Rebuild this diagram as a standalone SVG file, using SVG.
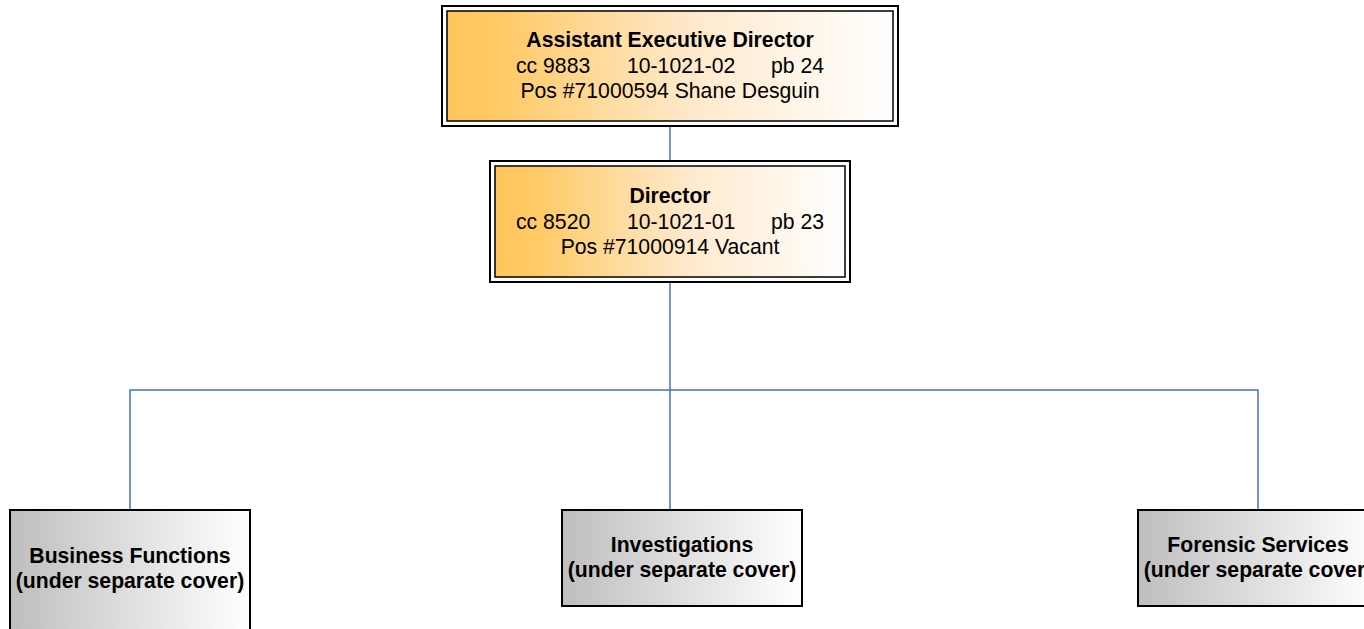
<svg xmlns="http://www.w3.org/2000/svg" width="1364" height="629" viewBox="0 0 1364 629">
<defs>
<linearGradient id="orange" x1="0" y1="0" x2="1" y2="0">
<stop offset="0" stop-color="#FFC65A"/>
<stop offset="0.12" stop-color="#FFCA66"/>
<stop offset="0.55" stop-color="#FFE9CC"/>
<stop offset="1" stop-color="#FFFFFF"/>
</linearGradient>
<linearGradient id="gray" x1="0" y1="0" x2="1" y2="0">
<stop offset="0" stop-color="#BEBEBE"/>
<stop offset="1" stop-color="#FFFFFF"/>
</linearGradient>
<style>
.outer{fill:#FFFFFF;stroke:#000;stroke-width:2}
.inner{fill:url(#orange);stroke:#000;stroke-width:1.5}
.gbox{fill:url(#gray);stroke:#000;stroke-width:2}
.conn{stroke:#4472C4;stroke-width:1.5;fill:none}
text{font-family:"Liberation Sans",Arial,sans-serif;font-size:21.2px;fill:#000}
.b{font-weight:bold}
.m{text-anchor:middle}
</style>
</defs>
<g id="connectors">
<path class="conn" d="M670 126 V161"/>
<path class="conn" d="M670 282 V390"/>
<path class="conn" d="M130 510 V390 H1258 V510"/>
<path class="conn" d="M670 390 V510"/>
</g>
<g id="aed">
<rect class="outer" x="442" y="6" width="456" height="120"/>
<rect class="inner" x="447" y="11" width="446" height="110"/>
<text class="b m" x="670" y="47">Assistant Executive Director</text>
<text x="516" y="73">cc 9883</text>
<text x="627" y="73">10-1021-02</text>
<text x="771" y="73">pb 24</text>
<text class="m" x="670" y="98">Pos #71000594 Shane Desguin</text>
</g>
<g id="director">
<rect class="outer" x="490" y="161" width="360" height="121"/>
<rect class="inner" x="495" y="166" width="350" height="111"/>
<text class="b m" x="670" y="203">Director</text>
<text x="516" y="229">cc 8520</text>
<text x="627" y="229">10-1021-01</text>
<text x="771" y="229">pb 23</text>
<text class="m" x="670" y="254">Pos #71000914 Vacant</text>
</g>
<g id="business">
<rect class="gbox" x="10" y="510" width="240" height="125"/>
<text class="b m" x="130" y="563">Business Functions</text>
<text class="b m" x="130" y="588">(under separate cover)</text>
</g>
<g id="investigations">
<rect class="gbox" x="562" y="510" width="240" height="96"/>
<text class="b m" x="682" y="552">Investigations</text>
<text class="b m" x="682" y="577">(under separate cover)</text>
</g>
<g id="forensic">
<rect class="gbox" x="1138" y="510" width="240" height="96"/>
<text class="b m" x="1258" y="552">Forensic Services</text>
<text class="b m" x="1258" y="577">(under separate cover)</text>
</g>
</svg>
